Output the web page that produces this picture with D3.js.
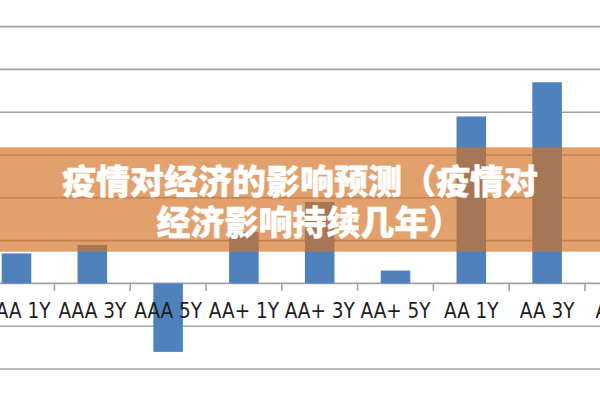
<!DOCTYPE html>
<html>
<head>
<meta charset="utf-8">
<script src="https://cdn.jsdelivr.net/npm/d3@7"></script>
<style>
  body { margin: 0; background: #fff; }
</style>
</head>
<body>
<div id="chart"></div>
<script>
  // categories along the bottom (the last one is cut off at the right edge)
  const categories = ["AAA 1Y","AAA 3Y","AAA 5Y","AA+ 1Y","AA+ 3Y","AA+ 5Y","AA 1Y","AA 3Y","AA 5Y"];
  // bar values, one per visible bar
  const values = [7, 9, -16, 12, 19, 3, 39, 47];
  // horizontal gridlines
  const yTicks = [-20, -10, 0, 10, 20, 30, 40, 50, 60];
  // banner title
  const titleLines = ["疫情对经济的影响预测（疫情对", "经济影响持续几年）"];

  const width = 600, height = 400;

  const svg = d3.select("#chart")
    .append("svg")
      .attr("width", width)
      .attr("height", height);

  // the plot is wider than the picture, it gets cropped on both sides
  const step = 75.8;
  const x0 = -21.4;
  const x = d3.scaleBand()
    .domain(categories)
    .range([x0, x0 + step * categories.length])
    .paddingInner(0.61)
    .paddingOuter(0.305);

  const y = d3.scaleLinear()
    .domain([-20, 60])
    .range([369, 26.6]);

  // gridlines
  svg.append("g")
    .selectAll("line")
    .data(yTicks)
    .join("line")
      .attr("x1", 0)
      .attr("x2", width)
      .attr("y1", d => y(d))
      .attr("y2", d => y(d))
      .attr("stroke", "#a3a3a3")
      .attr("stroke-width", 1.6);

  // bars
  svg.append("g")
    .selectAll("rect")
    .data(values)
    .join("rect")
      .attr("x", (d, i) => x(categories[i]))
      .attr("y", d => y(Math.max(0, d)))
      .attr("width", x.bandwidth())
      .attr("height", d => Math.abs(y(d) - y(0)))
      .attr("fill", "#4f81bd");

  // category axis: labels under the zero line, ticks between categories
  const xAxis = svg.append("g")
    .attr("transform", `translate(0,${y(0)})`)
    .call(d3.axisBottom(x).tickSize(0).tickPadding(0));
  xAxis.select(".domain").remove();
  xAxis.selectAll("text")
    .attr("y", 35)
    .attr("dy", 0)
    .attr("fill", "#1e1e1e")
    .style("font-family", "'Liberation Sans Narrow', 'DejaVu Sans Condensed', sans-serif")
    .style("font-size", "20.5px");

  const boundaries = categories.map(c => x(c) + x.bandwidth() / 2 + x.step() / 2);
  svg.append("g")
    .selectAll("line")
    .data(boundaries)
    .join("line")
      .attr("x1", d => d)
      .attr("x2", d => d)
      .attr("y1", y(0))
      .attr("y2", y(0) + 7.5)
      .attr("stroke", "#a3a3a3")
      .attr("stroke-width", 1.6);

  // translucent orange banner over the chart
  svg.append("rect")
    .attr("x", 0)
    .attr("y", 147.3)
    .attr("width", width)
    .attr("height", 104.4)
    .attr("fill", "rgb(211,113,32)")
    .attr("fill-opacity", 0.66);

  const titleX = [300, 309.5];
  const titleY = [194, 235];
  svg.append("g")
    .selectAll("text")
    .data(titleLines)
    .join("text")
      .attr("x", (d, i) => titleX[i])
      .attr("y", (d, i) => titleY[i])
      .attr("text-anchor", "middle")
      .attr("fill", "#fff")
      .attr("stroke", "#fff")
      .attr("stroke-width", 0.4)
      .style("font-family", "'Noto Sans CJK SC', sans-serif")
      .style("font-weight", 900)
      .style("font-size", "34px")
      .text(d => d);
</script>
</body>
</html>
